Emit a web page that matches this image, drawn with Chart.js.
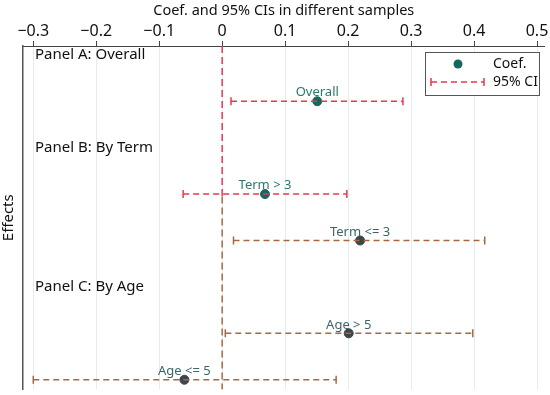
<!DOCTYPE html>
<html>
<head>
<meta charset="utf-8">
<script src="https://cdn.jsdelivr.net/npm/chart.js@4"></script>
<style>
  html, body { margin: 0; padding: 0; background: #fff; }
  #wrap { width: 550px; height: 395px; }
</style>
</head>
<body>
<div id="wrap"><canvas id="CoefChart"></canvas></div>
<script>
// data
var groups = ["Overall", "Term > 3", "Term <= 3", "Age > 5", "Age <= 5"];
var coef = [0.151, 0.068, 0.219, 0.201, -0.060];
var ciLow = [0.014, -0.062, 0.018, 0.005, -0.300];
var ciHigh = [0.287, 0.198, 0.417, 0.398, 0.181];
var groupRow = [2, 4, 5, 7, 8];
var panels = ["Panel A: Overall", "Panel B: By Term", "Panel C: By Age"];
var panelRow = [1, 3, 6];
var xTicks = [-0.3, -0.2, -0.1, 0, 0.1, 0.2, 0.3, 0.4, 0.5];

var FONT = "'Noto Sans', 'Open Sans', sans-serif";
var red = "#e8384f";
var brown = "#a8683f";
var lineColors = [red, red, brown, brown, brown];
var dotColors = ["#17675f", "#17675f", "#3c474c", "#3c474c", "#3c474c"];
var labelColors = ["#2a7872", "#2a7872", "#3d6466", "#3d6466", "#3d6466"];

var datasets = [];

// zero reference line (red top part, brown lower part)
datasets.push({
    type: "line", data: [{ x: 0, y: 0.81 }, { x: 0, y: 4.05 }],
    borderColor: red, borderWidth: 1.5, borderDash: [7, 4], pointRadius: 0
});
datasets.push({
    type: "line", data: [{ x: 0, y: 4.05 }, { x: 0, y: 8.21 }],
    borderColor: brown, borderWidth: 1.5, borderDash: [7, 4], pointRadius: 0
});

// CI lines
for (var i = 0; i < groups.length; i++) {
    datasets.push({
        type: "line",
        data: [{ x: ciLow[i], y: groupRow[i] }, { x: ciHigh[i], y: groupRow[i] }],
        borderColor: lineColors[i], borderWidth: 1.5, borderDash: [6, 4],
        pointStyle: "line", rotation: 90, pointRadius: 4, pointBorderWidth: 1.5,
        pointBorderColor: lineColors[i]
    });
}

// coefficient points
datasets.push({
    type: "scatter",
    data: coef.map(function(v, i) { return { x: v, y: groupRow[i] }; }),
    backgroundColor: dotColors, borderColor: dotColors, pointRadius: 4.5
});

var textPlugin = {
    id: "texts",
    afterDatasetsDraw: function(chart) {
        var ctx = chart.ctx;
        var xs = chart.scales.x, ys = chart.scales.y;
        ctx.save();
        // point labels
        ctx.font = "13px " + FONT;
        ctx.textAlign = "center";
        ctx.textBaseline = "bottom";
        for (var i = 0; i < groups.length; i++) {
            ctx.fillStyle = labelColors[i];
            ctx.fillText(groups[i], xs.getPixelForValue(coef[i]), ys.getPixelForValue(groupRow[i]) - 2);
        }
        // panel headers
        ctx.font = "15px " + FONT;
        ctx.textAlign = "left";
        ctx.textBaseline = "middle";
        ctx.fillStyle = "#111";
        for (var j = 0; j < panels.length; j++) {
            ctx.fillText(panels[j], 35, ys.getPixelForValue(panelRow[j]));
        }
        // legend
        ctx.fillStyle = "#fff";
        ctx.fillRect(425, 52, 114, 43);
        ctx.strokeStyle = "#555";
        ctx.lineWidth = 1;
        ctx.strokeRect(425.5, 52.5, 114, 43);
        ctx.fillStyle = dotColors[0];
        ctx.beginPath();
        ctx.arc(458, 64, 4.5, 0, Math.PI * 2);
        ctx.fill();
        ctx.strokeStyle = red;
        ctx.lineWidth = 1.5;
        ctx.setLineDash([6, 4]);
        ctx.beginPath();
        ctx.moveTo(431, 82); ctx.lineTo(484, 82);
        ctx.stroke();
        ctx.setLineDash([]);
        ctx.beginPath();
        ctx.moveTo(431, 78); ctx.lineTo(431, 86);
        ctx.moveTo(484, 78); ctx.lineTo(484, 86);
        ctx.stroke();
        ctx.fillStyle = "#111";
        ctx.font = "14px " + FONT;
        ctx.fillText("Coef.", 493, 64);
        ctx.fillText("95% CI", 493, 82);
        ctx.restore();
    }
};

new Chart(document.getElementById("CoefChart"), {
    data: { datasets: datasets },
    options: {
        responsive: true,
        maintainAspectRatio: false,
        animation: false,
        layout: { padding: { top: 0, right: 1, bottom: 5, left: 0 } },
        plugins: { legend: { display: false }, tooltip: { enabled: false } },
        scales: {
            x: {
                type: "linear", position: "top", min: -0.3163, max: 0.5119,
                afterBuildTicks: function(scale) {
                    scale.ticks = xTicks.map(function(v) { return { value: v }; });
                },
                afterFit: function(scale) { scale.height = 46; },
                ticks: {
                    color: "#111", font: { family: FONT, size: 16 }, padding: 0,
                    maxRotation: 0,
                    callback: function(v) {
                        var s = (Math.round(v * 10) / 10).toString();
                        return s.replace("-", "\u2212");
                    }
                },
                grid: { color: "#e4eef0", tickColor: "#444", tickLength: 5, lineWidth: 1 },
                border: { display: true, color: "#444", width: 1 },
                title: {
                    display: true, text: "Coef. and 95% CIs in different samples",
                    color: "#111", font: { family: FONT, size: 14.5 }, padding: { top: 2, bottom: 0 }
                }
            },
            y: {
                type: "linear", reverse: true, min: 0.81, max: 8.21,
                afterFit: function(scale) { scale.width = 23; },
                ticks: { display: false },
                grid: { display: false },
                border: { display: true, color: "#555", width: 1.5 },
                title: {
                    display: true, text: "Effects", color: "#111",
                    font: { family: FONT, size: 15 }, padding: 0
                }
            }
        }
    },
    plugins: [textPlugin]
});
</script>
</body>
</html>
